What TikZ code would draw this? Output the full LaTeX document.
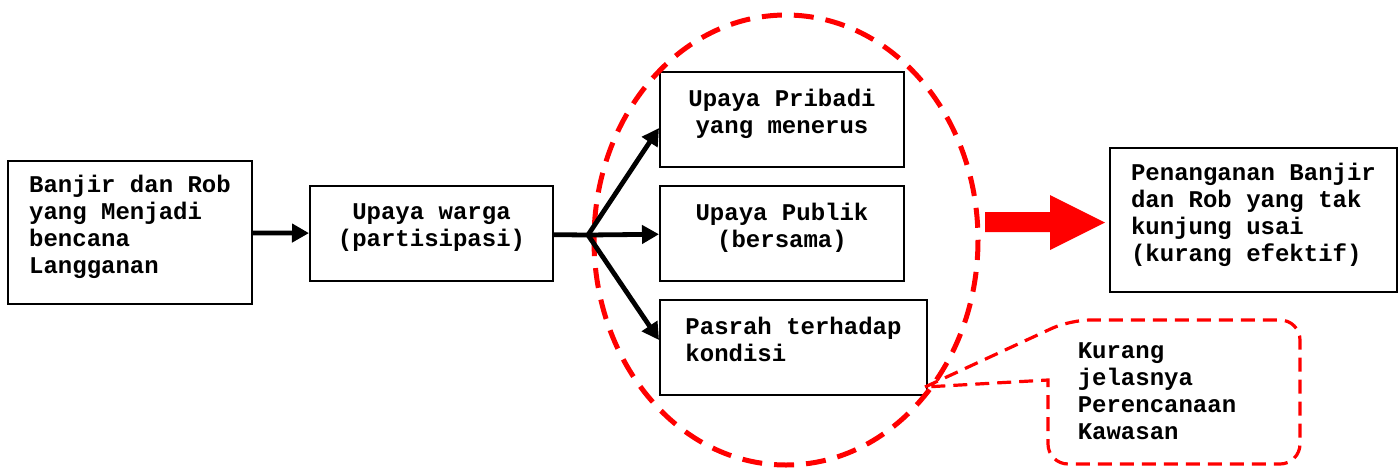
\documentclass[tikz,border=0pt]{standalone}
\usepackage{fontspec}
\usepackage{tikz}
\usetikzlibrary{arrows.meta}
\newfontfamily\courbd{Liberation Mono}
\newcommand{\boxfont}{\courbd\bfseries\fontsize{12}{13.5}\selectfont}
\newcommand{\lowpad}{\rule[-8pt]{0pt}{8pt}}

\begin{document}
\begin{tikzpicture}[x=0.5pt, y=-0.5pt,
          box/.style={rectangle, draw, line width=1pt, fill=white, align=center,
                      font=\boxfont, minimum height=47.5pt},
          lbox/.style={box, align=left},
          arr/.style={-{Triangle[length=8.5pt,width=9pt]}, line width=2.4pt},
          ring/.style={draw=red, line width=2.5pt, dash pattern=on 10pt off 6pt},
          callout/.style={draw=red, line width=1.6pt, dash pattern=on 7pt off 4pt}
        ]
        \useasboundingbox (0,0) rectangle (1398,467);

        \node[lbox, minimum width=122pt, minimum height=71.5pt] (banjir)  at (130, 232.5)
              {Banjir dan Rob\\yang Menjadi\\bencana\\Langganan\lowpad};
        \node[box,  minimum width=121.5pt] (warga)   at (431.5, 233.5) {Upaya warga\\(partisipasi)\lowpad};
        \node[box,  minimum width=122pt]   (pribadi) at (782, 119)     {Upaya Pribadi\\yang menerus\lowpad};
        \node[box,  minimum width=122pt]   (publik)  at (782, 233)     {Upaya Publik\\(bersama)\lowpad};
        \node[lbox, minimum width=133.5pt] (pasrah)  at (793.5, 347.5) {Pasrah terhadap\\kondisi\lowpad};
        \node[lbox, minimum width=143.5pt, minimum height=72pt] (hasil) at (1253.5, 220)
              {Penanganan Banjir\\dan Rob yang tak\\kunjung usai\\(kurang efektif)\lowpad};

        \draw[ring] (786, 240) ellipse [x radius=192, y radius=225];

        \coordinate (split) at (588, 235);
        \draw[line width=2.4pt] (warga) -- (split);
        \draw[arr] (banjir) -- (warga);
        \draw[arr] (split) -- ([yshift=-4.5pt]pribadi.west);
        \draw[arr] (split) -- (publik);
        \draw[arr] (split) -- ([yshift=3.75pt]pasrah.west);

        \fill[red] (985, 212) -- (1050, 212) -- (1050, 195) -- (1105, 222.5)
              -- (1050, 250) -- (1050, 232) -- (985, 232) -- cycle;

        \node[font=\boxfont, align=left] (kurang) at (1157, 391)
              {Kurang\\jelasnya\\Perencanaan\\Kawasan};
        \coordinate (tip) at (925, 387);
        \draw[callout] (tip) [rounded corners=10pt] -- (1070, 320) -- (1300, 320)
              -- (1300, 464) -- (1048, 464) [sharp corners] -- (1048, 380) -- cycle;
      \end{tikzpicture}
\end{document}
